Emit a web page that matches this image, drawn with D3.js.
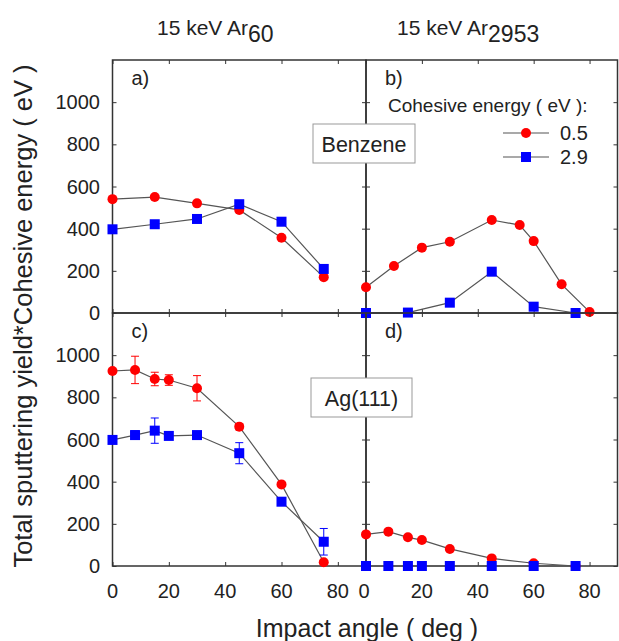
<!DOCTYPE html>
<html>
<head>
<meta charset="utf-8">
<script src="https://d3js.org/d3.v7.min.js"></script>
<style>
	body { margin: 0; background: #fff; }
	svg text { font-family: "Liberation Sans", Arial, sans-serif; fill: #222; }
</style>
</head>
<body>
<svg id="chart" width="619" height="641"></svg>
<script>

// a) benzene, Ar60
var anglesA = [0, 15, 30, 45, 60, 75];
var redA = [540, 550, 520, 489, 357, 170];
var blueA = [397, 421, 446, 516, 433, 209];

// b) benzene, Ar2953
var anglesRedB = [0, 10, 20, 30, 45, 55, 60, 70, 80];
var redB = [122, 223, 310, 338, 441, 417, 341, 136, 5];
var anglesBlueB = [0, 15, 30, 45, 60, 75];
var blueB = [0, 2, 49, 196, 30, 0];

// c) Ag(111), Ar60 - with error bars
var anglesC = [0, 8, 15, 20, 30, 45, 60, 75];
var redC = [925, 930, 887, 882, 843, 661, 387, 18];
var redErrC = [0, 65, 32, 25, 60, 15, 0, 0];
var blueC = [598, 621, 642, 617, 621, 535, 305, 115];
var blueErrC = [0, 20, 60, 0, 0, 50, 0, 63];

// d) Ag(111), Ar2953
var anglesD = [0, 8, 15, 20, 30, 45, 60, 75];
var redD = [150, 163, 136, 123, 81, 36, 13, 0];
var blueD = [0, 0, 0, 0, 0, 0, 0, 0];

var xTicks = [0, 20, 40, 60, 80];
var yTicks = [0, 200, 400, 600, 800, 1000];
var legendLabels = ["0.5", "2.9"];

var svg = d3.select("#chart");

// panel geometry
var top0 = 60, mid = 313, bot = 566;
var leftX = [112.5, 366], rightX = [366, 617.5];

var panels = [
	{"id": "a)", "xr": leftX, "yr": [mid, top0],
		"red": anglesA.map(function(a, i){ return {x: a, y: redA[i], e: 0}; }),
		"blue": anglesA.map(function(a, i){ return {x: a, y: blueA[i], e: 0}; })},
	{"id": "b)", "xr": rightX, "yr": [mid, top0],
		"red": anglesRedB.map(function(a, i){ return {x: a, y: redB[i], e: 0}; }),
		"blue": anglesBlueB.map(function(a, i){ return {x: a, y: blueB[i], e: 0}; })},
	{"id": "c)", "xr": leftX, "yr": [bot, mid],
		"red": anglesC.map(function(a, i){ return {x: a, y: redC[i], e: redErrC[i]}; }),
		"blue": anglesC.map(function(a, i){ return {x: a, y: blueC[i], e: blueErrC[i]}; })},
	{"id": "d)", "xr": rightX, "yr": [bot, mid],
		"red": anglesD.map(function(a, i){ return {x: a, y: redD[i], e: 0}; }),
		"blue": anglesD.map(function(a, i){ return {x: a, y: blueD[i], e: 0}; })}
];

var lineCol = "#555", red = "#ff0000", blue = "#0000ff";

panels.forEach(function(p, n){
	var x = d3.scaleLinear().domain([0, 90]).range(p.xr);
	var y = d3.scaleLinear().domain([0, 1200]).range(p.yr);
	var g = svg.append("g").attr("class", "panel");

	// frame
	g.append("rect")
		.attr("x", p.xr[0]).attr("y", p.yr[1])
		.attr("width", p.xr[1] - p.xr[0]).attr("height", p.yr[0] - p.yr[1])
		.attr("fill", "none").attr("stroke", "#333").attr("stroke-width", 1.5);

	// ticks, mirrored on all four sides
	var axB = d3.axisBottom(x).tickValues(xTicks).tickSize(-4).tickFormat("");
	var axT = d3.axisTop(x).tickValues(xTicks).tickSize(-4).tickFormat("");
	var axL = d3.axisLeft(y).tickValues(yTicks).tickSize(-4).tickFormat("");
	var axR = d3.axisRight(y).tickValues(yTicks).tickSize(-4).tickFormat("");
	[[axB, "0," + p.yr[0]], [axT, "0," + p.yr[1]], [axL, p.xr[0] + ",0"], [axR, p.xr[1] + ",0"]].forEach(function(a){
		var ag = g.append("g").attr("transform", "translate(" + a[1] + ")").call(a[0]);
		ag.select(".domain").remove();
		ag.selectAll("line").attr("stroke", "#333");
	});

	// tick labels only on outer edges
	if (n % 2 == 0) {
		g.selectAll(".ylab").data(yTicks).enter().append("text")
			.attr("x", 100).attr("y", function(d){ return y(d) + 7; })
			.attr("text-anchor", "end").attr("font-size", 20)
			.text(function(d){ return d; });
	}
	if (n >= 2) {
		g.selectAll(".xlab").data(xTicks).enter().append("text")
			.attr("x", function(d){
				// right hand 0 sits a bit left so it doesnt touch the 80
				if (n == 3 && d == 0) return x(d) - 2;
				return x(d);
			})
			.attr("y", 598).attr("text-anchor", "middle").attr("font-size", 20)
			.text(function(d){ return d; });
	}

	var line = d3.line().x(function(d){ return x(d.x); }).y(function(d){ return y(d.y); });

	["red", "blue"].forEach(function(s){
		g.append("path").datum(p[s])
			.attr("d", line).attr("fill", "none")
			.attr("stroke", lineCol).attr("stroke-width", 1.2);
	});

	// error bars
	["red", "blue"].forEach(function(s){
		var col = s == "red" ? red : blue;
		p[s].filter(function(d){ return d.e > 0; }).forEach(function(d){
			var cx = x(d.x), y1 = y(d.y - d.e), y2 = y(d.y + d.e);
			g.append("line").attr("x1", cx).attr("x2", cx).attr("y1", y1).attr("y2", y2)
				.attr("stroke", col).attr("stroke-width", 1);
			[y1, y2].forEach(function(yy){
				g.append("line").attr("x1", cx - 4).attr("x2", cx + 4).attr("y1", yy).attr("y2", yy)
					.attr("stroke", col).attr("stroke-width", 1);
			});
		});
	});

	// markers
	g.selectAll(".redpt").data(p.red).enter().append("circle")
		.attr("cx", function(d){ return x(d.x); }).attr("cy", function(d){ return y(d.y); })
		.attr("r", 5).attr("fill", red);
	g.selectAll(".bluept").data(p.blue).enter().append("rect")
		.attr("x", function(d){ return x(d.x) - 5; }).attr("y", function(d){ return y(d.y) - 5; })
		.attr("width", 10).attr("height", 10).attr("fill", blue);

	// panel letter
	g.append("text").attr("x", p.xr[0] + 19).attr("y", p.yr[1] + 25)
		.attr("font-size", 20).text(p.id);
});

// labelled boxes in the middle
function tagBox(label, bx, by, bw, bh){
	svg.append("rect").attr("x", bx).attr("y", by).attr("width", bw).attr("height", bh)
		.attr("fill", "#fff").attr("stroke", "#999").attr("stroke-width", 1);
	svg.append("text").attr("x", bx + bw / 2).attr("y", by + bh / 2 + 8)
		.attr("text-anchor", "middle").attr("font-size", 21.5).text(label);
}
tagBox("Benzene", 313, 124, 102, 39);
tagBox("Ag(111)", 311, 378, 101, 39);

// legend
svg.append("text").attr("x", 388).attr("y", 112).attr("font-size", 19)
	.text("Cohesive energy ( eV ):");
legendLabels.forEach(function(l, i){
	var ly = 133 + i * 24;
	svg.append("line").attr("x1", 503).attr("x2", 549).attr("y1", ly).attr("y2", ly)
		.attr("stroke", lineCol).attr("stroke-width", 1.2);
	if (i == 0) {
		svg.append("circle").attr("cx", 526).attr("cy", ly).attr("r", 5).attr("fill", red);
	} else {
		svg.append("rect").attr("x", 521).attr("y", ly - 5).attr("width", 10).attr("height", 10).attr("fill", blue);
	}
	svg.append("text").attr("x", 560).attr("y", ly + 7).attr("font-size", 20).text(l);
});

// titles
var t1 = svg.append("text").attr("x", 157).attr("y", 35).attr("font-size", 21);
t1.append("tspan").text("15 keV Ar");
t1.append("tspan").attr("dy", 7).attr("font-size", 23).text("60");
var t2 = svg.append("text").attr("x", 397).attr("y", 35).attr("font-size", 21);
t2.append("tspan").text("15 keV Ar");
t2.append("tspan").attr("dy", 7).attr("font-size", 23).text("2953");

// axis titles
svg.append("text").attr("x", 367).attr("y", 637).attr("text-anchor", "middle")
	.attr("font-size", 25).text("Impact angle ( deg )");
svg.append("text").attr("transform", "translate(32,316) rotate(-90)")
	.attr("text-anchor", "middle").attr("font-size", 25.5)
	.text("Total sputtering yield*Cohesive energy ( eV )");
</script>
</body>
</html>
